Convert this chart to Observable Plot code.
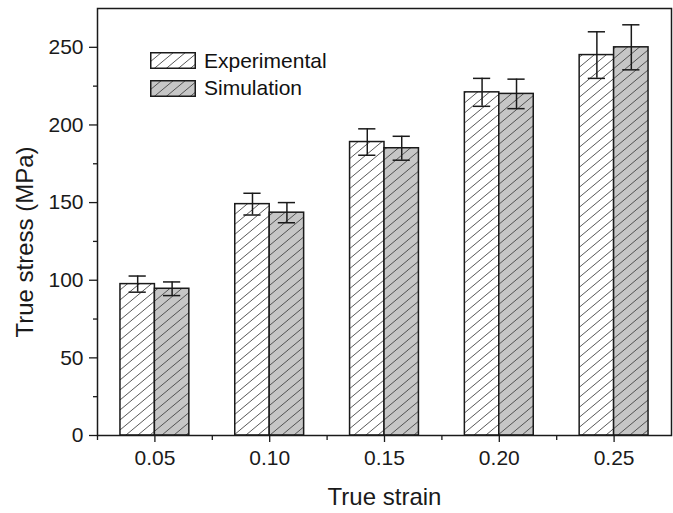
<!DOCTYPE html>
<html>
<head>
<meta charset="utf-8">
<script src="https://cdn.jsdelivr.net/npm/d3@7"></script>
<script src="https://cdn.jsdelivr.net/npm/@observablehq/plot@0.6"></script>
<style>
  html, body { margin: 0; padding: 0; background: #fff; }
  #wrap { position: relative; width: 673px; height: 513px; font-family: "Liberation Sans", Arial, sans-serif; }
  #legend { position: absolute; left: 150px; top: 52px; font-size: 21px; color: #111; }
  .item { display: flex; align-items: center; height: 17px; margin-bottom: 10.5px; }
  .item svg { margin-right: 8px; }
</style>
</head>
<body>
<div id="wrap"></div>
<script>
const strains = [0.05, 0.10, 0.15, 0.20, 0.25];
const expMean = [97.5, 149, 189, 221, 245];
const expErr  = [5.2, 7, 8.5, 9, 15];
const simMean = [94.5, 143.5, 185, 220, 250];
const simErr  = [4.4, 6.5, 7.7, 9.5, 14.5];
const yTicks = [0, 50, 100, 150, 200, 250];
const yMinor = [25, 75, 125, 175, 225];
const xTicks = [0.05, 0.10, 0.15, 0.20, 0.25];
const xMinor = [0.025, 0.075, 0.125, 0.175, 0.225];
const seriesNames = ["Experimental", "Simulation"];
const barWidth = 0.015;

const rows = [];
strains.forEach((s, i) => {
  rows.push({series: seriesNames[0], x1: s - barWidth, x2: s, mean: expMean[i], err: expErr[i]});
  rows.push({series: seriesNames[1], x1: s, x2: s + barWidth, mean: simMean[i], err: simErr[i]});
});
const expRows = rows.filter(d => d.series === seriesNames[0]);
const simRows = rows.filter(d => d.series === seriesNames[1]);
const cx = d => (d.x1 + d.x2) / 2;
const capHalf = barWidth / 4;

const ink = "#1a1a1a";
const plot = Plot.plot({
  width: 673,
  height: 513,
  marginTop: 8,
  marginRight: 2,
  marginBottom: 78,
  marginLeft: 97,
  style: {fontFamily: "'Liberation Sans', Arial, sans-serif", background: "#fff", color: ink},
  x: {domain: [0.025, 0.275]},
  y: {domain: [0, 275]},
  marks: [
    Plot.rectY(expRows, {x1: "x1", x2: "x2", y1: 0, y2: "mean", fill: "url(#hatchExp)", stroke: ink, strokeWidth: 1.5}),
    Plot.rectY(simRows, {x1: "x1", x2: "x2", y1: 0, y2: "mean", fill: "url(#hatchSim)", stroke: ink, strokeWidth: 1.5}),
    Plot.ruleX(rows, {x: cx, y1: d => d.mean - d.err, y2: d => d.mean + d.err, stroke: ink, strokeWidth: 1.5}),
    Plot.ruleY(rows, {y: d => d.mean + d.err, x1: d => cx(d) - capHalf, x2: d => cx(d) + capHalf, stroke: ink, strokeWidth: 1.5}),
    Plot.ruleY(rows, {y: d => d.mean - d.err, x1: d => cx(d) - capHalf, x2: d => cx(d) + capHalf, stroke: ink, strokeWidth: 1.5}),
    Plot.frame({stroke: ink, strokeWidth: 1.5}),
    Plot.axisY({ticks: yTicks, tickSize: 8, tickPadding: 6, fontSize: 21, label: null, strokeWidth: 1.3}),
    Plot.axisY({ticks: yMinor, tickSize: 4, text: null, label: null, strokeWidth: 1.3}),
    Plot.axisX({ticks: xTicks, tickSize: 7, tickPadding: 8, fontSize: 21, tickFormat: d3.format(".2f"), label: null, strokeWidth: 1.3}),
    Plot.axisX({ticks: xMinor, tickSize: 5, text: null, label: null, strokeWidth: 1.3}),
    Plot.text(["True stress (MPa)"], {frameAnchor: "left", textAnchor: "middle", lineAnchor: "middle", rotate: -90, dx: -72, dy: 20, fontSize: 24, fill: ink}),
    Plot.text(["True strain"], {frameAnchor: "bottom", lineAnchor: "middle", dy: 62, fontSize: 24, fill: ink})
  ]
});

function addPatterns(svg, prefix) {
  const ns = "http://www.w3.org/2000/svg";
  const defs = document.createElementNS(ns, "defs");
  const w = 12, h = 10, k = h / w;
  [["Exp", "#ffffff"], ["Sim", "#c6c6c6"]].forEach(([name, bg]) => {
    const p = document.createElementNS(ns, "pattern");
    p.setAttribute("id", prefix + name);
    p.setAttribute("patternUnits", "userSpaceOnUse");
    p.setAttribute("width", w);
    p.setAttribute("height", h);
    const r = document.createElementNS(ns, "rect");
    r.setAttribute("width", w); r.setAttribute("height", h); r.setAttribute("fill", bg);
    p.appendChild(r);
    const path = document.createElementNS(ns, "path");
    path.setAttribute("d", `M-2,${h + 2 * k}L${w + 2},${-2 * k}M${w - 2},${h + 2 * k}L${w + 2},${h - 2 * k}M-2,${2 * k}L2,${-2 * k}`);
    path.setAttribute("stroke", "#444");
    path.setAttribute("stroke-width", "0.9");
    path.setAttribute("fill", "none");
    p.appendChild(path);
    defs.appendChild(p);
  });
  svg.insertBefore(defs, svg.firstChild);
}
addPatterns(plot, "hatch");

const wrap = document.getElementById("wrap");
wrap.appendChild(plot);

const legend = document.createElement("div");
legend.id = "legend";
seriesNames.forEach((name, i) => {
  const item = document.createElement("div");
  item.className = "item";
  item.innerHTML = `<svg width="46" height="17"><rect x="0.75" y="0.75" width="44.5" height="15.5" fill="url(#hatch${i === 0 ? "Exp" : "Sim"})" stroke="${ink}" stroke-width="1.5"/></svg><span>${name}</span>`;
  legend.appendChild(item);
});
wrap.appendChild(legend);
</script>
</body>
</html>
